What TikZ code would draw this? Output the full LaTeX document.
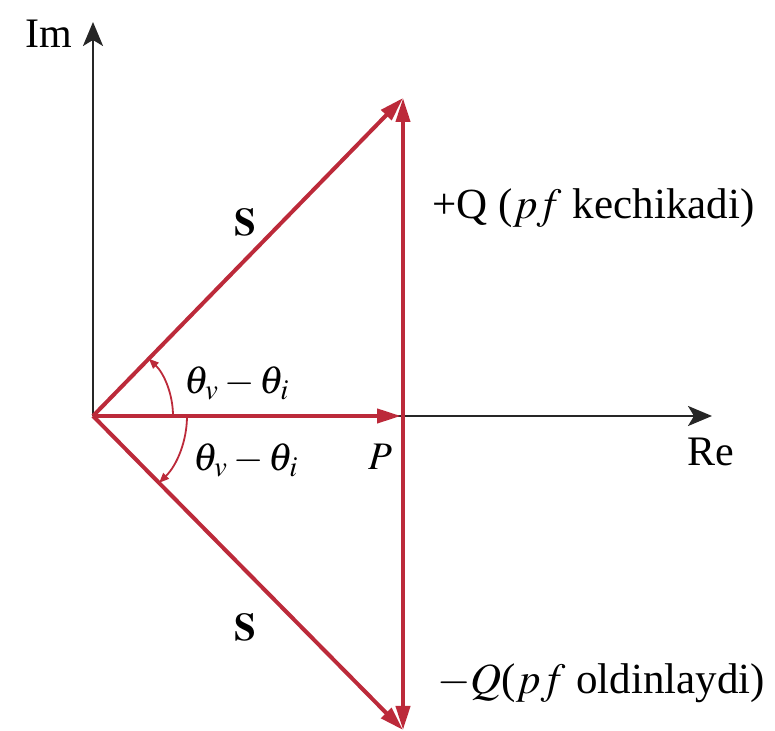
\documentclass[tikz,border=0pt]{standalone}
\usepackage{mathptmx}
\usepackage{fontspec}
\setmainfont{Liberation Serif}
\usetikzlibrary{arrows.meta}
\definecolor{phasered}{RGB}{188,42,58}
\begin{document}
\begin{tikzpicture}[
    x=0.5pt, y=0.5pt,
    axis/.style={draw=black!85, line width=1.3pt, -{Stealth[length=12pt,width=10pt,inset=3pt]}},
    vec/.style={draw=phasered, line width=2pt, -{Triangle[length=12pt,width=7pt]}},
    angarc/.style={draw=phasered, line width=0.9pt, -{Triangle[length=5pt,width=4pt]}},
    lbl/.style={inner sep=0pt, font=\fontsize{21}{24}\selectfont},
    big/.style={lbl, font=\fontsize{19.5}{24}\selectfont},
    qlbl/.style={lbl, anchor=west, font=\fontsize{21.5}{26}\selectfont}
]
\useasboundingbox (0,0) rectangle (775,731);
% points
\coordinate (O) at (93,315);
\coordinate (imtip) at (93,709);
\coordinate (retip) at (712,315);
\coordinate (Q0) at (403,315);
\coordinate (Pend) at (401,315);
\coordinate (T) at (403,633);
\coordinate (B) at (403,1);

% axes
\draw[axis] (O) -- (imtip);
\draw[axis] (O) -- (retip);
\node[lbl] (im) at (49,697) {Im};
\node[lbl] (re) at (711,279) {Re};

% phasors
\draw[vec] (O) -- (T);
\draw[vec] (O) -- (B);
\draw[vec] (O) -- (Pend);
\draw[vec] (Q0) -- (T);
\draw[vec] (Q0) -- (B);

% angles
\draw[angarc] ([shift={(0:40pt)}]O) arc[start angle=0, end angle=45.7, radius=40pt];
\draw[angarc] ([shift={(0:47pt)}]O) arc[start angle=0, end angle=-45.3, radius=47pt];

% labels
\node[big] (su) at (245,509) {$\mathbf{S}$};
\node[big] (sl) at (245,104) {$\mathbf{S}$};
\node[big] (thu) at (237,348) {$\theta_v - \theta_i$};
\node[big] (thl) at (246,271) {$\theta_v - \theta_i$};
\node[big] (p) at (380,274) {$P$};
\node[qlbl] (qp) at (432,523) {+Q ($pf$ kechikadi)};
\node[qlbl] (qm) at (437,48) {$-Q$($pf$ oldinlaydi)};
\end{tikzpicture}
\end{document}
